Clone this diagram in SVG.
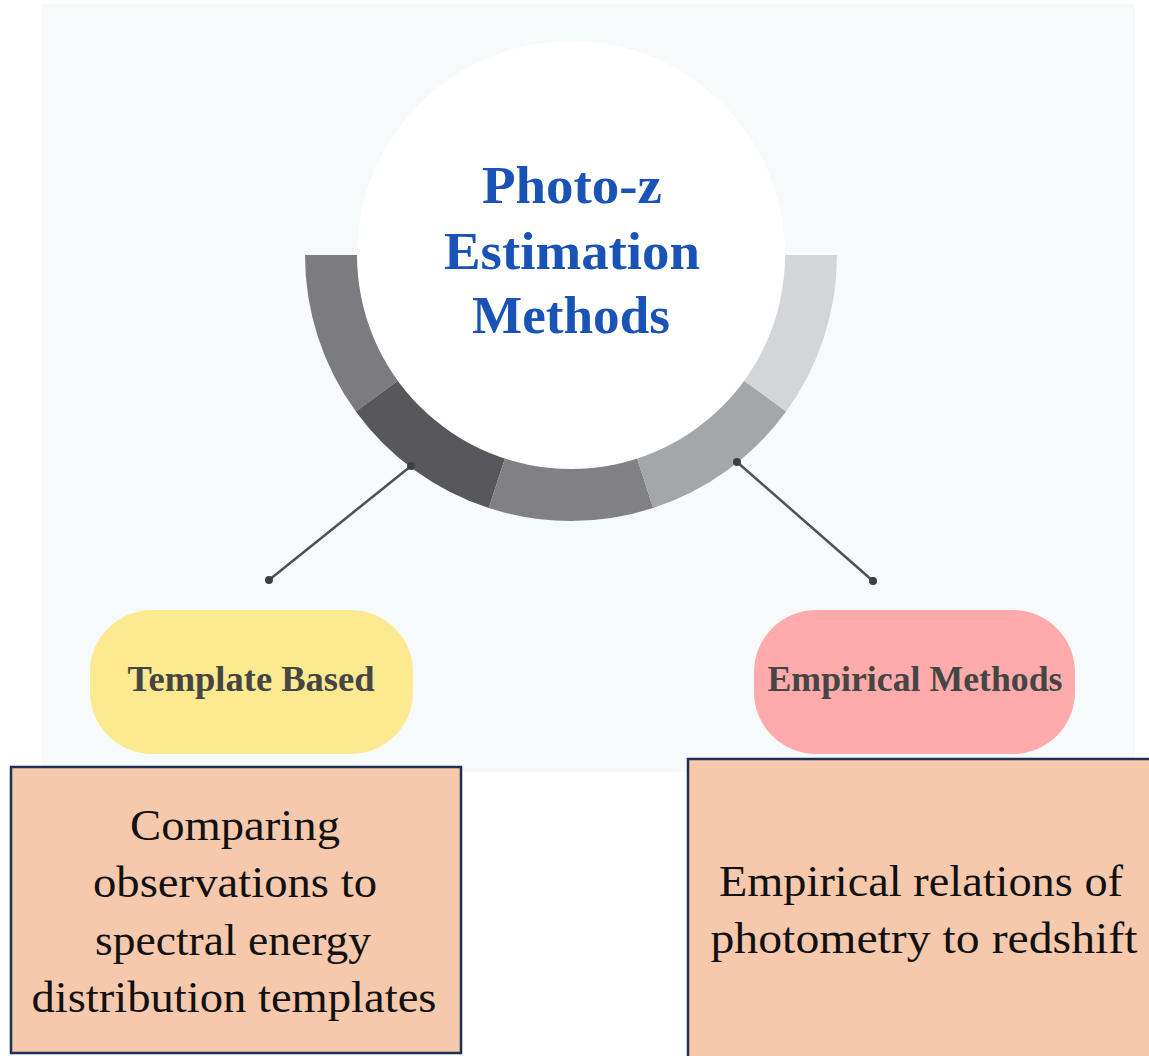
<svg xmlns="http://www.w3.org/2000/svg" width="1149" height="1056" viewBox="0 0 1149 1056">
  <style>
    .title { font-family: "Liberation Serif", "DejaVu Serif", serif; font-weight: bold; font-size: 52px; fill: #1a53b6; text-anchor: middle; }
    .pill-label { font-family: "Liberation Serif", "DejaVu Serif", serif; font-weight: bold; font-size: 35px; fill: #454545; text-anchor: middle; }
    .desc { font-family: "Liberation Serif", "DejaVu Serif", serif; font-size: 44px; fill: #111111; text-anchor: middle; }
    .box { fill: #f6c9ad; stroke: #1f3052; stroke-width: 2.5; }
    .link { stroke: #505050; stroke-width: 2.5; fill: none; }
    .dot { fill: #3e3e40; }
  </style>

  <!-- panel backdrop -->
  <rect x="42" y="4" width="1093" height="768" fill="#f6fafb"/>

  <!-- central hub with segmented half ring -->
  <g id="hub">
    <path d="M305,255 A266,266 0 0 0 355.8,411.4 L398.7,380.2 A213,213 0 0 1 358,255 Z" fill="#7b7b80"/>
    <path d="M355.8,411.4 A266,266 0 0 0 488.8,508 L505.2,457.6 A213,213 0 0 1 398.7,380.2 Z" fill="#58575c"/>
    <path d="M488.8,508 A266,266 0 0 0 653.2,508 L636.8,457.6 A213,213 0 0 1 505.2,457.6 Z" fill="#808085"/>
    <path d="M653.2,508 A266,266 0 0 0 786.2,411.4 L743.3,380.2 A213,213 0 0 1 636.8,457.6 Z" fill="#a3a7aa"/>
    <path d="M786.2,411.4 A266,266 0 0 0 837,255 L784,255 A213,213 0 0 1 743.3,380.2 Z" fill="#d3d6d9"/>
    <circle cx="571" cy="255" r="214" fill="#ffffff"/>
    <text class="title" x="572" y="203" textLength="180" lengthAdjust="spacingAndGlyphs">Photo-z</text>
    <text class="title" x="572" y="269" textLength="256" lengthAdjust="spacingAndGlyphs">Estimation</text>
    <text class="title" x="571" y="333" textLength="198" lengthAdjust="spacingAndGlyphs">Methods</text>
  </g>

  <!-- connectors from the ring to the two branches -->
  <g id="connectors">
    <line class="link" x1="411" y1="466" x2="269" y2="580"/>
    <circle class="dot" cx="411" cy="466" r="4"/>
    <circle class="dot" cx="269" cy="580" r="4"/>
    <line class="link" x1="737" y1="462" x2="873" y2="581"/>
    <circle class="dot" cx="737" cy="462" r="4"/>
    <circle class="dot" cx="873" cy="581" r="4"/>
  </g>

  <g id="template-based">
    <rect x="90" y="610" width="323" height="144" rx="62" fill="#fde98f"/>
    <text class="pill-label" x="251" y="691" textLength="247" lengthAdjust="spacingAndGlyphs">Template Based</text>
  </g>

  <g id="empirical-methods">
    <rect x="754" y="610" width="321" height="144" rx="62" fill="#ffabab"/>
    <text class="pill-label" x="915" y="691" textLength="295" lengthAdjust="spacingAndGlyphs">Empirical Methods</text>
  </g>

  <g id="template-description">
    <rect class="box" x="11" y="767" width="450" height="286"/>
    <text class="desc" x="235" y="840" textLength="210" lengthAdjust="spacingAndGlyphs">Comparing</text>
    <text class="desc" x="235" y="897" textLength="284" lengthAdjust="spacingAndGlyphs">observations to</text>
    <text class="desc" x="233" y="955" textLength="276" lengthAdjust="spacingAndGlyphs">spectral energy</text>
    <text class="desc" x="234" y="1012" textLength="405" lengthAdjust="spacingAndGlyphs">distribution templates</text>
  </g>

  <g id="empirical-description">
    <rect class="box" x="688" y="759" width="470" height="310"/>
    <text class="desc" x="921" y="896" textLength="404" lengthAdjust="spacingAndGlyphs">Empirical relations of</text>
    <text class="desc" x="924" y="953" textLength="427" lengthAdjust="spacingAndGlyphs">photometry to redshift</text>
  </g>
</svg>
